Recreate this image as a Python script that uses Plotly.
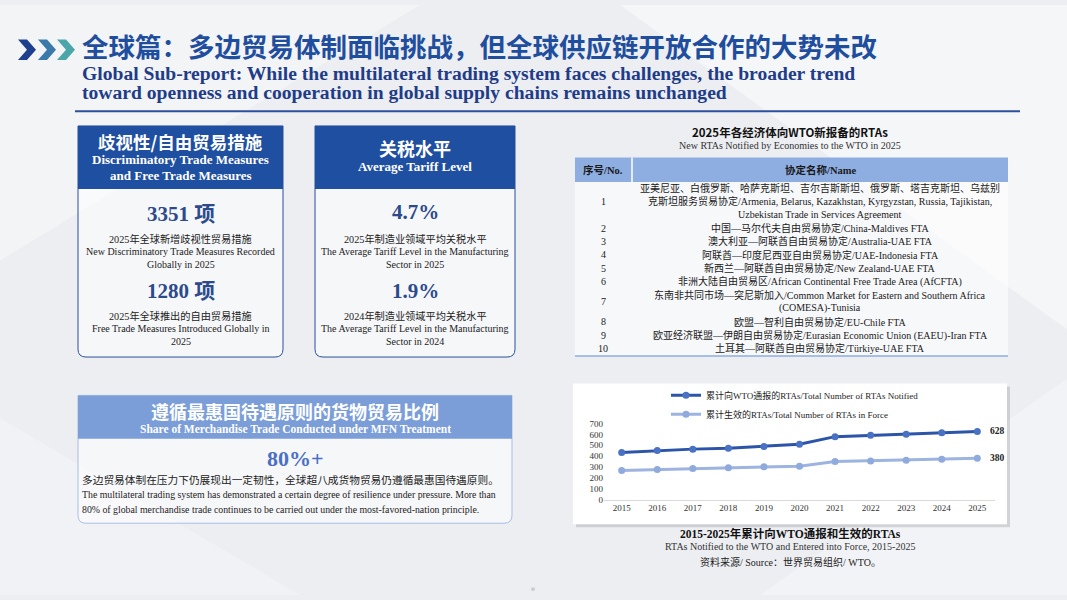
import plotly.graph_objects as go

# ---- data ----
years = ["2015", "2016", "2017", "2018", "2019", "2020", "2021", "2022", "2023", "2024", "2025"]
rtas_notified = [435, 453, 465, 474, 489, 510, 580, 592, 601, 616, 628]
rtas_in_force = [269, 278, 287, 293, 302, 308, 350, 356, 362, 372, 380]

rta_no = ["1", "2", "3", "4", "5", "6", "7", "8", "9", "10"]
rta_names = [
    "亚美尼亚、白俄罗斯、哈萨克斯坦、吉尔吉斯斯坦、俄罗斯、塔吉克斯坦、乌兹别<br>"
    "克斯坦服务贸易协定/Armenia, Belarus, Kazakhstan, Kyrgyzstan, Russia, Tajikistan,<br>"
    "Uzbekistan Trade in Services Agreement",
    "中国—马尔代夫自由贸易协定/China-Maldives FTA",
    "澳大利亚—阿联酋自由贸易协定/Australia-UAE FTA",
    "阿联酋—印度尼西亚自由贸易协定/UAE-Indonesia FTA",
    "新西兰—阿联酋自由贸易协定/New Zealand-UAE FTA",
    "非洲大陆自由贸易区/African Continental Free Trade Area (AfCFTA)",
    "东南非共同市场—突尼斯加入/Common Market for Eastern and Southern Africa<br>(COMESA)-Tunisia",
    "欧盟—智利自由贸易协定/EU-Chile FTA",
    "欧亚经济联盟—伊朗自由贸易协定/Eurasian Economic Union (EAEU)-Iran FTA",
    "土耳其—阿联酋自由贸易协定/Türkiye-UAE FTA",
]

discriminatory_measures = "3351 项"
free_trade_measures = "1280 项"
tariff_2025 = "4.7%"
tariff_2024 = "1.9%"
mfn_share = "80%+"

W, H = 1067, 600
SERIF = "Liberation Serif, Noto Sans CJK SC, serif"
SANS = "Noto Sans CJK SC, sans-serif"
NAVY = "#1f4e9e"


def X(px):
    return px / W


def Y(py):
    return 1 - py / H


ann = []
shapes = []


def text(x, y, s, size, color="#222", family=SERIF, bold=False, anchor="center"):
    ann.append(dict(x=X(x), y=Y(y), xref="paper", yref="paper",
                    text=f"<b>{s}</b>" if bold else s, showarrow=False,
                    xanchor=anchor, yanchor="middle",
                    font=dict(size=size, color=color, family=family)))


def rect(x0, y0, x1, y1, fill, line="rgba(0,0,0,0)", lw=0):
    shapes.append(dict(type="rect", xref="paper", yref="paper",
                       x0=X(x0), y0=Y(y0), x1=X(x1), y1=Y(y1),
                       fillcolor=fill, line=dict(color=line, width=lw), layer="below"))


def poly(pts, fill, line="rgba(0,0,0,0)", lw=0):
    p = "M " + " L ".join(f"{X(a):.5f},{Y(b):.5f}" for a, b in pts) + " Z"
    shapes.append(dict(type="path", xref="paper", yref="paper", path=p,
                       fillcolor=fill, line=dict(color=line, width=lw), layer="below"))


def round_box(x0, y0, x1, y1, r, fill, line, lw):
    p = (f"M {X(x0)},{Y(y0)} L {X(x1)},{Y(y0)} L {X(x1)},{Y(y1 - r)} "
         f"Q {X(x1)},{Y(y1)} {X(x1 - r)},{Y(y1)} L {X(x0 + r)},{Y(y1)} "
         f"Q {X(x0)},{Y(y1)} {X(x0)},{Y(y1 - r)} Z")
    shapes.append(dict(type="path", xref="paper", yref="paper", path=p,
                       fillcolor=fill, line=dict(color=line, width=lw), layer="below"))


# background facets
poly([(0, 0), (420, 0), (0, 260)], "rgba(255,255,255,0.35)")
poly([(620, 0), (1067, 0), (1067, 330)], "rgba(255,255,255,0.45)")
poly([(760, 600), (1067, 380), (1067, 600)], "rgba(255,255,255,0.3)")
poly([(0, 420), (300, 600), (0, 600)], "rgba(255,255,255,0.25)")

# chevrons
for x0, col in [(18, "#1d3f8e"), (38, "#3a7aaa"), (57, "#4aa6a8")]:
    poly([(x0, 35), (x0 + 9, 35), (x0 + 18, 45.5), (x0 + 9, 56), (x0, 56), (x0 + 9, 45.5)], col)

# headline
text(80, 41, "全球篇：多边贸易体制面临挑战，但全球供应链开放合作的大势未改", 26.5, NAVY, SANS, True, "left")
text(80, 70, "Global Sub-report: While the multilateral trading system faces challenges, the broader trend",
     19.6, "#1f3c88", SERIF, True, "left")
text(80, 89, "toward openness and cooperation in global supply chains remains unchanged",
     19.6, "#1f3c88", SERIF, True, "left")
shapes.append(dict(type="line", xref="paper", yref="paper", x0=X(75), y0=Y(108), x1=X(1020), y1=Y(108),
                   line=dict(color="#2d4f9e", width=2), layer="below"))

# box 1 & 2
for x0, x1 in [(78, 283), (315, 515)]:
    round_box(x0, 123, x1, 358, 8, "rgba(255,255,255,0.5)", "#2a4f9a", 1)
    rect(x0, 123, x1, 187, "#1f4fa0")

c1 = 180.5
text(c1, 139, "歧视性/自由贸易措施", 17.5, "white", SANS, True)
text(c1, 157, "Discriminatory Trade Measures", 13, "white", SERIF, True)
text(c1, 173, "and Free Trade Measures", 13, "white", SERIF, True)
text(c1, 213, discriminatory_measures, 21, "#2c4a8c", SERIF, True)
text(c1, 238, "2025年全球新增歧视性贸易措施", 10.2)
text(c1, 251, "New Discriminatory Trade Measures Recorded", 10)
text(c1, 264, "Globally in 2025", 10)
text(c1, 291, free_trade_measures, 21, "#2c4a8c", SERIF, True)
text(c1, 316, "2025年全球推出的自由贸易措施", 10.2)
text(c1, 329, "Free Trade Measures Introduced Globally in", 10)
text(c1, 342, "2025", 10)

c2 = 415
text(c2, 145, "关税水平", 18, "white", SANS, True)
text(c2, 164, "Average Tariff Level", 13, "white", SERIF, True)
text(c2, 211, tariff_2025, 21, "#2c4a8c", SERIF, True)
text(c2, 238, "2025年制造业领域平均关税水平", 10.2)
text(c2, 251, "The Average Tariff Level in the Manufacturing", 10)
text(c2, 264, "Sector in 2025", 10)
text(c2, 291, tariff_2024, 21, "#2c4a8c", SERIF, True)
text(c2, 316, "2024年制造业领域平均关税水平", 10.2)
text(c2, 329, "The Average Tariff Level in the Manufacturing", 10)
text(c2, 342, "Sector in 2024", 10)

# box 3
round_box(78, 397, 512, 527, 8, "rgba(255,255,255,0.55)", "#a9bde6", 1)
rect(78, 397, 512, 441, "#7b9dd8")
c3 = 295
text(c3, 413, "遵循最惠国待遇原则的货物贸易比例", 18, "white", SANS, True)
text(c3, 431, "Share of Merchandise Trade Conducted under MFN Treatment", 11.5, "white", SERIF, True)
text(c3, 461, mfn_share, 22, "#4a70c4", SERIF, True)
text(80, 483, "多边贸易体制在压力下仍展现出一定韧性，全球超八成货物贸易仍遵循最惠国待遇原则。", 10.7, "#222", SANS, False, "left")
text(80, 498, "The multilateral trading system has demonstrated a certain degree of resilience under pressure. More than",
     9.8, "#222", SERIF, False, "left")
text(80, 513, "80% of global merchandise trade continues to be carried out under the most-favored-nation principle.",
     9.8, "#222", SERIF, False, "left")

# table
text(790, 129, "2025年各经济体向WTO新报备的RTAs", 11.5, "#111", SANS, True)
text(790, 143, "New RTAs Notified by Economies to the WTO in 2025", 10, "#333", SERIF)
rect(575, 180, 1008, 357, "rgba(255,255,255,0.6)")
rect(575, 155, 1008, 180, "#8eaee2")
shapes.append(dict(type="line", xref="paper", yref="paper", x0=X(632), y0=Y(155), x1=X(632), y1=Y(180),
                   line=dict(color="white", width=1.5), layer="below"))
shapes.append(dict(type="line", xref="paper", yref="paper", x0=X(575), y0=Y(357), x1=X(1008), y1=Y(357),
                   line=dict(color="#8eaee2", width=1.5), layer="below"))
text(603, 167.5, "序号/No.", 10.5, "#1a1a1a", SERIF, True)
text(820, 167.5, "协定名称/Name", 10.5, "#1a1a1a", SERIF, True)

line_h = 13.6
k = 0
for no, name in zip(rta_no, rta_names):
    parts = name.split("<br>")
    ys = [186 + (k + i) * line_h for i in range(len(parts))]
    for yy, part in zip(ys, parts):
        text(820, yy, part, 10, "#1a1a1a", SERIF)
    text(603, sum(ys) / len(ys), no, 10, "#1a1a1a", SERIF)
    k += len(parts)

# line chart box
rect(576, 388, 1010, 531, "rgba(0,0,0,0.13)")
rect(573, 385, 1007, 528, "white")

fig = go.Figure()
fig.add_trace(go.Scatter(
    x=years, y=rtas_notified, mode="lines+markers",
    name="累计向WTO通报的RTAs/Total Number of RTAs Notified",
    line=dict(color="#2c54a8", width=3), marker=dict(size=7, color="#4a72c4")))
fig.add_trace(go.Scatter(
    x=years, y=rtas_in_force, mode="lines+markers",
    name="累计生效的RTAs/Total Number of RTAs in Force",
    line=dict(color="#9db3e0", width=3), marker=dict(size=7, color="#8faadc")))

# end-of-line value labels (category axis -> serial index)
for series in (rtas_notified, rtas_in_force):
    ann.append(dict(x=len(years) - 1, y=series[-1], xref="x", yref="y", text=f"<b>{series[-1]}</b>",
                    showarrow=False, xanchor="left", yanchor="middle", xshift=11,
                    font=dict(size=9.5, family=SERIF, color="#222")))

# chart caption
text(790, 537, "2015-2025年累计向WTO通报和生效的RTAs", 11.5, "#111", SERIF, True)
text(790, 551, "RTAs Notified to the WTO and Entered into Force, 2015-2025", 10, "#333", SERIF)
text(790, 566, "资料来源/ Source：世界贸易组织/ WTO。", 10, "#222", SERIF)

shapes.append(dict(type="circle", xref="paper", yref="paper", x0=X(531), y0=Y(592), x1=X(535), y1=Y(596),
                   fillcolor="#c8ccd4", line=dict(width=0), layer="below"))

fig.update_layout(
    width=W, height=H, margin=dict(l=0, r=0, t=0, b=0),
    paper_bgcolor="#eceef2", plot_bgcolor="rgba(0,0,0,0)",
    shapes=shapes, annotations=ann,
    xaxis=dict(domain=[X(603.9), X(995.1)], type="category", range=[-0.5, 10.5],
               showgrid=False, zeroline=False, showline=True, linecolor="#d9d9d9", ticks="",
               tickfont=dict(size=9, family=SERIF, color="#333"), fixedrange=True),
    yaxis=dict(domain=[Y(503), Y(425.7)], range=[0, 700], dtick=100,
               showgrid=False, zeroline=False, showline=False, ticks="",
               tickfont=dict(size=9, family=SERIF, color="#333"), fixedrange=True),
    legend=dict(x=X(666), y=Y(382), xanchor="left", yanchor="top",
                font=dict(size=9, family=SERIF, color="#222"),
                bgcolor="rgba(0,0,0,0)", itemwidth=30, tracegroupgap=0),
    showlegend=True,
)

fig.write_html("out.html", config={"displayModeBar": False},
               post_script="document.body.style.margin='0';document.body.style.overflow='hidden';")
